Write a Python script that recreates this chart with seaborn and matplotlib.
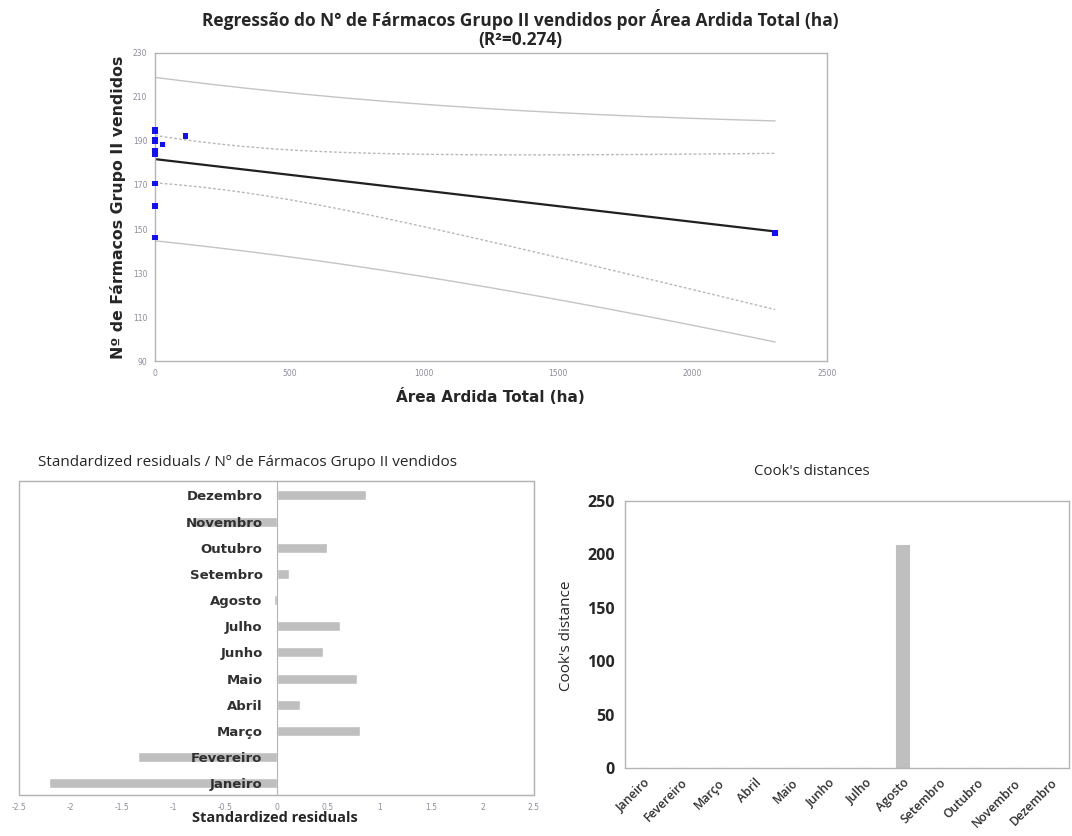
"""
Regression of group II drugs sold vs total burnt area, with residual diagnostics.
"""
import numpy as np
import pandas as pd
import matplotlib
matplotlib.use('Agg')
import matplotlib.pyplot as plt
import seaborn as sns
from matplotlib.patches import Rectangle

# ---- data ----
months = ['Janeiro', 'Fevereiro', 'Março', 'Abril', 'Maio', 'Junho',
          'Julho', 'Agosto', 'Setembro', 'Outubro', 'Novembro', 'Dezembro']
area_ardida = [0, 0, 0, 0, 114, 27, 0, 2307, 0, 0, 0, 0]
farmacos = [146.2, 160.5, 194.6, 185.5, 192.3, 188.5, 190.8, 148.2, 184.0, 189.7, 170.8, 195.2]
std_resid = [-2.21, -1.34, 0.81, 0.23, 0.78, 0.45, 0.62, -0.02, 0.12, 0.49, -0.80, 0.87]
cooks_d = [0.30, 0.12, 0.05, 0.01, 0.04, 0.02, 0.03, 208.5, 0.01, 0.02, 0.06, 0.06]
r2_text = '(R²=0.274)'
t_crit = 2.228  # Student t, 95%, 10 df

GRID = '#b4b4b4'
BAR = '#bfbfbf'
TICK_GRAY = '#8c8c9c'
SANS = ['Open Sans', 'DejaVu Sans']

sns.set_style('white')
plt.rcParams['font.family'] = ['DejaVu Sans']

df = pd.DataFrame({'Mes': months, 'Area': area_ardida, 'Farmacos': farmacos,
                   'Resid': std_resid, 'Cook': cooks_d})

# ---- regression fit and 95% bands ----
x = df['Area'].to_numpy(float)
y = df['Farmacos'].to_numpy(float)
n = len(x)
slope, intercept = np.polyfit(x, y, 1)
s = np.sqrt(np.sum((y - (intercept + slope * x)) ** 2) / (n - 2))
sxx = np.sum((x - x.mean()) ** 2)
xs = np.linspace(0, x.max(), 200)
fit = intercept + slope * xs
h = 1 / n + (xs - x.mean()) ** 2 / sxx
ci = t_crit * s * np.sqrt(h)
pi = t_crit * s * np.sqrt(1 + h)
bands = pd.DataFrame({'x': xs, 'fit': fit, 'ci_lo': fit - ci, 'ci_hi': fit + ci,
                      'pi_lo': fit - pi, 'pi_hi': fit + pi})

W, H = 1072, 836
fig = plt.figure(figsize=(W / 100, H / 100), dpi=100)


def box(l, t, r, b):
    return [l / W, 1 - b / H, (r - l) / W, (b - t) / H]


# ---- top: regression ----
ax1 = fig.add_axes(box(155, 53, 827, 361))
for col in ['pi_lo', 'pi_hi']:
    sns.lineplot(data=bands, x='x', y=col, ax=ax1, color='#c4c4c4', lw=1.0)
for col in ['ci_lo', 'ci_hi']:
    sns.lineplot(data=bands, x='x', y=col, ax=ax1, color='#b8b8b8', lw=1.0, linestyle=(0, (2, 1.5)))
sns.lineplot(data=bands, x='x', y='fit', ax=ax1, color='#202020', lw=1.6)
sns.scatterplot(data=df, x='Area', y='Farmacos', ax=ax1, marker='s', s=15,
                color='#1010ff', edgecolor='none', zorder=5, clip_on=False)
ax1.set_xlim(0, 2500)
ax1.set_ylim(90, 230)
ax1.set_xticks(range(0, 2501, 500))
ax1.set_yticks(range(90, 231, 20))
ax1.tick_params(labelsize=5.5, colors=GRID, labelcolor=TICK_GRAY, length=4, direction='inout', width=0.8)
ax1.set_xlabel('')
ax1.set_ylabel('')
for sp in ax1.spines.values():
    sp.set_color(GRID)
    sp.set_linewidth(1.0)
fig.text(490 / W, 1 - 397 / H, 'Área Ardida Total (ha)', ha='center', va='center',
         fontsize=11, fontweight='bold')
fig.text(118 / W, 1 - 207 / H, 'Nº de Fármacos Grupo II vendidos', ha='center', va='center',
         rotation=90, fontsize=11.3, fontweight='bold')
fig.text(520 / W, 1 - 29 / H,
         'Regressão do N° de Fármacos Grupo II vendidos por Área Ardida Total (ha)\n' + r2_text,
         ha='center', va='center', fontsize=12.5, fontweight='bold', linespacing=1.0,
         family=SANS)

# ---- bottom left: standardized residuals ----
ax2 = fig.add_axes(box(19, 481, 534, 795))
order = months[::-1]
sns.barplot(data=df, x='Resid', y='Mes', order=order, orient='h', ax=ax2,
            color=BAR, width=0.38, saturation=1)
ax2.set_axisbelow(False)
ax2.set_xlim(-2.5, 2.5)
ax2.set_ylim(11.45, -0.55)
ax2.set_xticks(np.arange(-2.5, 2.51, 0.5))
ax2.set_xticklabels([f'{v:g}' for v in np.arange(-2.5, 2.51, 0.5)])
ax2.spines['left'].set_position(('data', 0))
ax2.spines['left'].set_color(GRID)
for side in ['top', 'right', 'bottom']:
    ax2.spines[side].set_color(GRID)
ax2.add_patch(Rectangle((0, 0), 1, 1, transform=ax2.transAxes, fill=False,
                        ec=GRID, lw=1.0, clip_on=False))
ax2.set_yticks(range(len(order)))
ax2.set_yticklabels(order)
ax2.set_yticks(np.arange(0.5, len(order) - 1, 1), minor=True)
ax2.tick_params(axis='y', which='major', length=0, pad=10, labelsize=9.5, labelcolor='#303030')
ax2.tick_params(axis='y', which='minor', length=5, direction='inout', color=GRID, width=0.8)
ax2.tick_params(axis='x', labelsize=5.5, labelcolor=TICK_GRAY, colors=GRID, length=4,
                direction='inout', width=0.8)
for lab in ax2.get_yticklabels():
    lab.set_fontweight('bold')
ax2.set_xlabel('')
ax2.set_ylabel('')
fig.text(275 / W, 1 - 818 / H, 'Standardized residuals', ha='center', va='center',
         fontsize=10.5, fontweight='bold', family=SANS)
fig.text(248 / W, 1 - 462 / H, 'Standardized residuals / Nº de Fármacos Grupo II vendidos',
         ha='center', va='center', fontsize=11, family=SANS)

# ---- bottom right: Cook's distances ----
ax3 = fig.add_axes(box(625, 501, 1069, 768))
sns.barplot(data=df, x='Mes', y='Cook', order=months, ax=ax3, color=BAR,
            width=0.36, saturation=1, edgecolor=BAR, linewidth=0.8)
ax3.set_xlim(-0.5, 11.5)
ax3.set_ylim(0, 250)
ax3.set_yticks(range(0, 251, 50))
for sp in ax3.spines.values():
    sp.set_color(GRID)
    sp.set_linewidth(1.0)
ax3.tick_params(axis='y', length=4, color=GRID, labelsize=11.5, width=0.8)
ax3.tick_params(axis='x', length=0, labelsize=8.8, pad=6, labelcolor='#303030')
for lab in ax3.get_yticklabels():
    lab.set_fontweight('bold')
    lab.set_family(SANS)
for lab in ax3.get_xticklabels():
    lab.set_rotation(45)
    lab.set_ha('right')
    lab.set_rotation_mode('anchor')
    lab.set_family(SANS)
    lab.set_fontweight('semibold')
ax3.set_xlabel('')
ax3.set_ylabel('')
fig.text(566 / W, 1 - 636 / H, "Cook's distance", ha='center', va='center', rotation=90,
         fontsize=11, family=SANS)
fig.text(812 / W, 1 - 472 / H, "Cook's distances", ha='center', va='center',
         fontsize=10.8, family=SANS)

fig.savefig('out.png', dpi=100)
